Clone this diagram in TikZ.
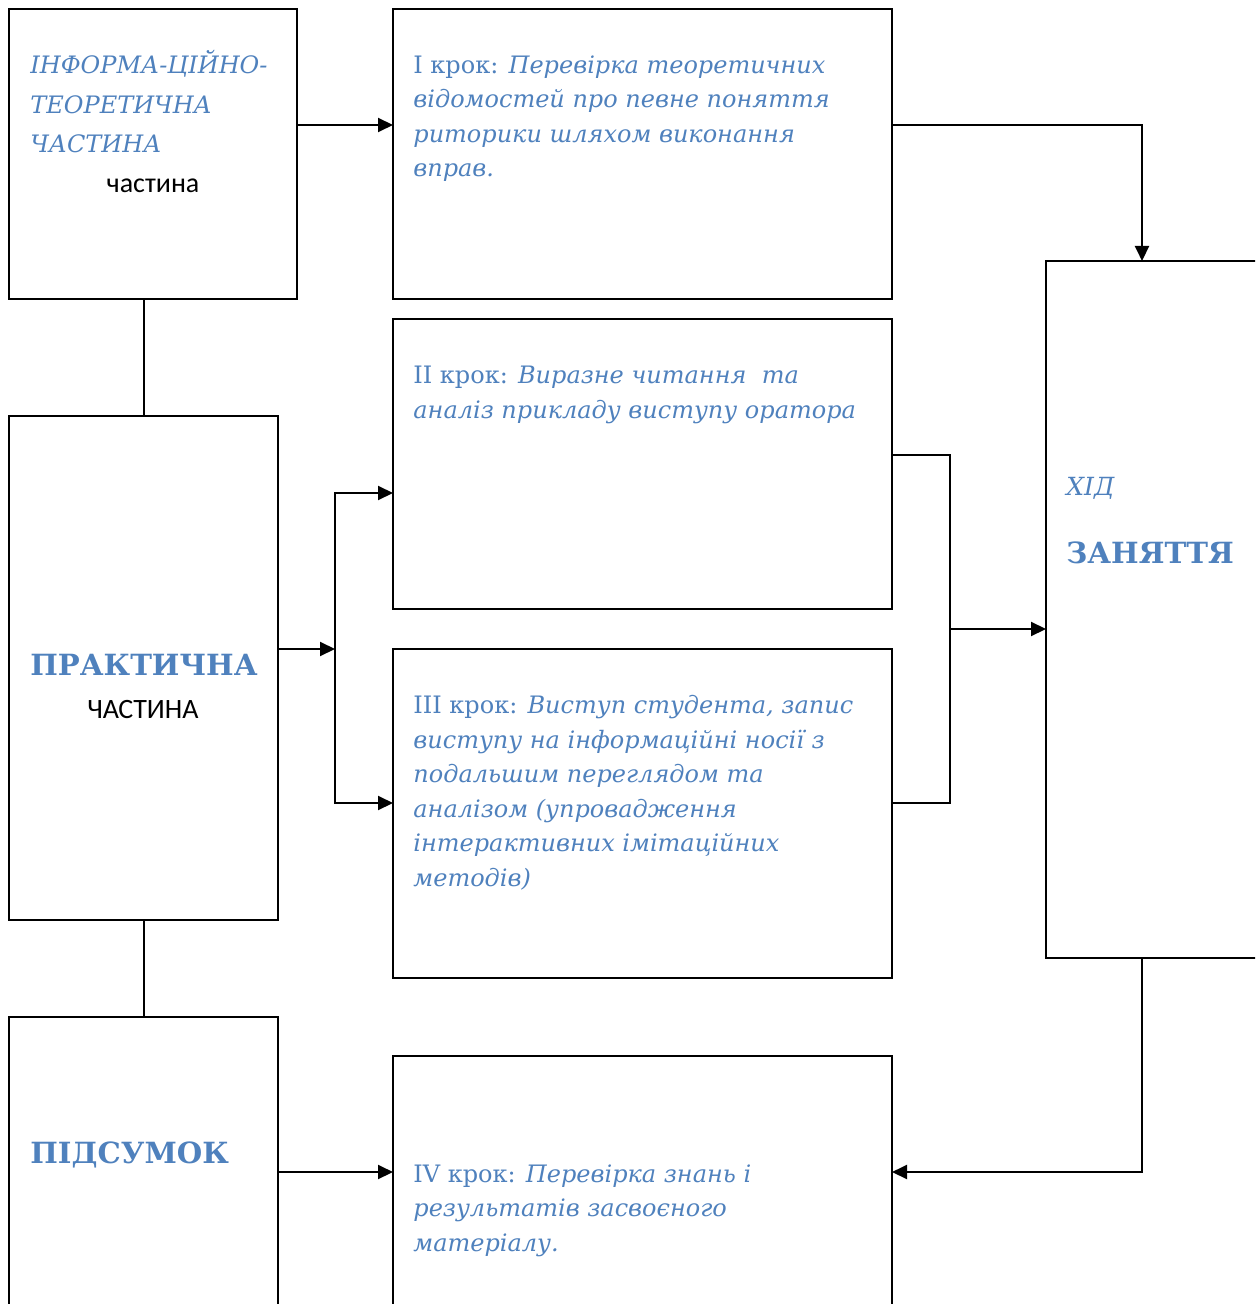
\documentclass[tikz,border=0pt]{standalone}
\usepackage{fontspec}
\setmainfont{DejaVu Serif}
\newfontfamily\calfont{Carlito}
\usetikzlibrary{arrows.meta}
\definecolor{krokblue}{HTML}{4F81BD}

\begin{document}
\begin{tikzpicture}[
  x=0.5pt, y=-0.5pt,
  blk/.style={draw, line width=1pt, anchor=north west, inner sep=0, outer sep=0},
  opis/.style={anchor=north west, align=left, inner sep=0, text=krokblue,
    font=\fontsize{12}{17.25}\selectfont\itshape},
  nazwa/.style={anchor=base west, inner sep=0, text=krokblue,
    font=\fontsize{14.6}{18}\selectfont\bfseries},
  dop/.style={anchor=base, inner sep=0, font=\calfont\fontsize{14}{16}\selectfont},
  pol/.style={line width=1pt},
  strz/.style={pol, -{Triangle[length=7.5pt, width=7pt]}},
]
\useasboundingbox (0,0) rectangle (1255,1304);
\clip (0,0) rectangle (1255,1304);
% Bloki
\node[blk, minimum width=144pt, minimum height=145pt] (inf) at (9,9) {};
\node[blk, minimum width=249.5pt, minimum height=145pt] (krok1) at (393,9) {};
\node[blk, minimum width=134.5pt, minimum height=252pt] (prak) at (9,416) {};
\node[blk, minimum width=249.5pt, minimum height=145pt] (krok2) at (393,319) {};
\node[blk, minimum width=249.5pt, minimum height=164.5pt] (krok3) at (393,649) {};
\node[blk, minimum width=134.5pt, minimum height=155pt] (pid) at (9,1017) {};
\node[blk, minimum width=249.5pt, minimum height=140pt] (krok4) at (393,1056) {};
\node[blk, minimum width=127pt, minimum height=348.5pt] (hid) at (1046,261) {};
% Teksty
\node[opis, font=\fontsize{12}{19.75}\selectfont\itshape] (infT) at (30,50)
  {ІНФОРМА-ЦІЙНО-\\ТЕОРЕТИЧНА\\ЧАСТИНА};
\node[dop] (infD) at (153,193) {частина};
\node[opis] (krok1T) at (413,55)
  {\upshape І крок: \itshape Перевірка теоретичних\\відомостей про певне поняття\\риторики шляхом виконання\\вправ.};
\node[opis] (krok2T) at (413,366)
  {\upshape ІІ крок: \itshape Виразне читання\ \ та\\аналіз прикладу виступу оратора};
\node[opis] (krok3T) at (413,695)
  {\upshape ІІІ крок: \itshape Виступ студента, запис\\виступу на інформаційні носії з\\подальшим переглядом та\\аналізом (упровадження\\інтерактивних імітаційних\\методів)};
\node[opis] (krok4T) at (413,1164)
  {\upshape IV крок: \itshape Перевірка знань і\\результатів засвоєного\\матеріалу.};
\node[nazwa] (prakT) at (30,675) {ПРАКТИЧНА};
\node[dop] (prakD) at (143,718) {ЧАСТИНА};
\node[nazwa] (pidT) at (30,1163) {ПІДСУМОК};
\node[nazwa, font=\fontsize{12.5}{15}\selectfont\itshape] (hidT) at (1066,495) {ХІД};
\node[nazwa] (hidZ) at (1066,563) {ЗАНЯТТЯ};
% Połączenia
\draw[strz] ([yshift=14.5pt]inf.east) -- ([yshift=14.5pt]krok1.west);
\draw[strz] ([yshift=14.5pt]krok1.east) -| ([xshift=-15.5pt]hid.north);
\draw[pol] (prak.north) -- (prak.north |- inf.south);
\coordinate (rozg) at (335,649);
\draw[strz] ([yshift=9.5pt]prak.east) -- (rozg);
\draw[strz] (rozg) |- ([yshift=-14.5pt]krok2.west);
\draw[strz] (rozg) |- ([yshift=5.25pt]krok3.west);
\coordinate (zbir) at (950,629);
\draw[pol] ([yshift=4.5pt]krok2.east) -| (zbir);
\draw[pol] ([yshift=5.25pt]krok3.east) -| (zbir);
\draw[strz] (zbir) -- (zbir -| hid.west);
\draw[pol] (prak.south) -- (pid.north);
\draw[strz] (pid.east) -- (pid.east -| krok4.west);
\draw[strz] ([xshift=-15.5pt]hid.south) |- (pid.east -| krok4.east);
\end{tikzpicture}
\end{document}
